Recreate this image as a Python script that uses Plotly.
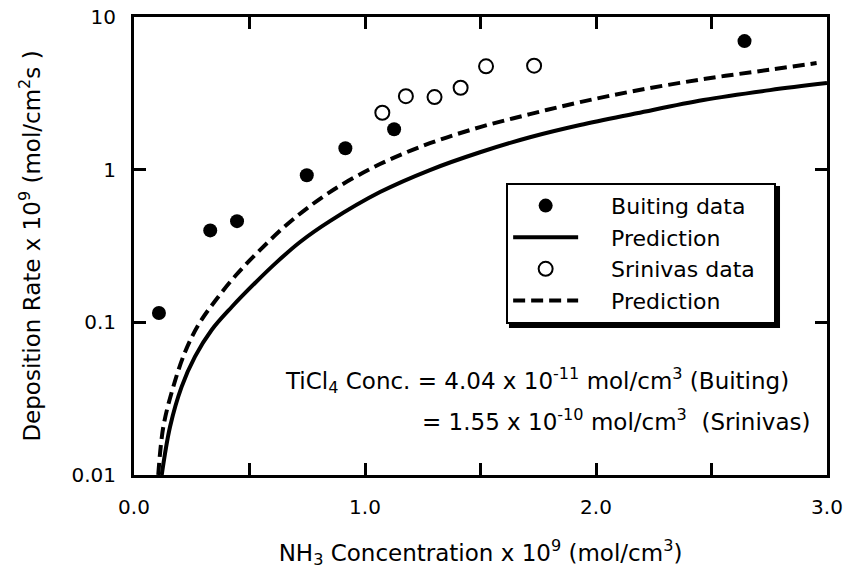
"""
Deposition rate of TiN against NH3 concentration: measured points from
Buiting and Srinivas with the model predictions, on a log rate axis.
"""

import plotly.graph_objects as go

# Measured deposition rates (x 1e9 mol/cm^2 s)
buiting_x = [0.108, 0.33, 0.446, 0.748, 0.915, 1.126, 2.643]
buiting_y = [0.115, 0.40, 0.46, 0.92, 1.38, 1.84, 6.95]

srinivas_x = [1.075, 1.177, 1.301, 1.414, 1.524, 1.732]
srinivas_y = [2.36, 3.03, 2.99, 3.44, 4.75, 4.8]

# Model predictions
pred_buiting_x = [0.120, 0.156, 0.206, 0.264, 0.336, 0.423, 0.524, 0.618,
                  0.719, 0.848, 1.065, 1.281, 1.498, 1.714, 1.931, 2.176,
                  2.465, 2.753, 3.0]
pred_buiting_y = [0.0100, 0.0207, 0.0378, 0.0596, 0.0891, 0.126, 0.181,
                  0.248, 0.336, 0.460, 0.713, 0.994, 1.30, 1.63, 1.96, 2.34,
                  2.86, 3.32, 3.69]

pred_srinivas_x = [0.105, 0.127, 0.170, 0.221, 0.278, 0.351, 0.442, 0.545,
                   0.675, 0.848, 1.065, 1.281, 1.498, 1.714, 1.931, 2.176,
                   2.465, 2.753, 2.955]
pred_srinivas_y = [0.0100, 0.0207, 0.0378, 0.0639, 0.0959, 0.138, 0.204,
                   0.297, 0.454, 0.713, 1.088, 1.49, 1.90, 2.31, 2.77, 3.30,
                   3.92, 4.52, 4.99]

# Tick labels
x_tickvals = [0.0, 0.5, 1.0, 1.5, 2.0, 2.5, 3.0]
x_ticktext = ["0.0", "", "1.0", "", "2.0", "", "3.0"]
y_tickvals = [0.01, 0.1, 1, 10]
y_ticktext = ["0.01", "0.1", "1", "10"]

FONT = "DejaVu Sans, Verdana, sans-serif"
PAD = "&nbsp;" * 4  # extra room between legend symbol and text


def _axis_style(standoff: int) -> dict:
    return dict(
        showline=True,
        linecolor="black",
        linewidth=3,
        mirror="ticks",
        ticks="inside",
        ticklen=12,
        tickwidth=2.5,
        tickcolor="black",
        showgrid=False,
        zeroline=False,
        automargin=False,
        ticklabelstandoff=standoff,
        tickfont=dict(size=20, color="black", family=FONT),
    )


fig = go.Figure()

fig.add_trace(go.Scatter(
    x=buiting_x, y=buiting_y, mode="markers", name=PAD + "Buiting data",
    marker=dict(size=14, color="black"),
))
fig.add_trace(go.Scatter(
    x=pred_buiting_x, y=pred_buiting_y, mode="lines", name=PAD + "Prediction",
    line=dict(color="black", width=4, shape="spline"),
))
fig.add_trace(go.Scatter(
    x=srinivas_x, y=srinivas_y, mode="markers",
    name=PAD + "Srinivas data&nbsp;&nbsp;",
    marker=dict(size=14, color="white", line=dict(color="black", width=2)),
))
fig.add_trace(go.Scatter(
    x=pred_srinivas_x, y=pred_srinivas_y, mode="lines", name=PAD + "Prediction",
    line=dict(color="black", width=4, dash="12px,6px", shape="spline"),
))

fig.update_xaxes(
    **_axis_style(12),
    range=[0, 3.0],
    tickvals=x_tickvals,
    ticktext=x_ticktext,
    title=dict(
        text="NH<sub>3</sub> Concentration x 10<sup>9</sup> (mol/cm<sup>3</sup>)",
        font=dict(size=23, color="black", family=FONT),
        standoff=27,
    ),
)
fig.update_yaxes(
    **_axis_style(11),
    type="log",
    range=[-2, 1],
    tickvals=y_tickvals,
    ticktext=y_ticktext,
    title=dict(
        text="Deposition Rate x 10<sup>9</sup> (mol/cm<sup>2</sup>s )",
        font=dict(size=23, color="black", family=FONT),
        standoff=25,
    ),
)

# Drop shadow behind the legend box
fig.add_shape(
    type="rect", xref="paper", yref="paper",
    x0=0.5411, x1=0.9322, y0=0.321, y1=0.631,
    fillcolor="black", line=dict(width=0), layer="above",
)

# Concentration note
fig.add_annotation(
    text="TiCl<sub>4</sub> Conc. = 4.04 x 10<sup>-11</sup> mol/cm<sup>3</sup> (Buiting)",
    x=0.215, y=0.207, xref="paper", yref="paper",
    xanchor="left", yanchor="middle", showarrow=False,
    font=dict(size=23, color="black", family=FONT),
)
fig.add_annotation(
    text="= 1.55 x 10<sup>-10</sup> mol/cm<sup>3</sup>&nbsp; (Srinivas)",
    x=0.412, y=0.12, xref="paper", yref="paper",
    xanchor="left", yanchor="middle", showarrow=False,
    font=dict(size=23, color="black", family=FONT),
)

fig.update_layout(
    width=843,
    height=572,
    margin=dict(l=134, r=16, t=17, b=97),
    paper_bgcolor="white",
    plot_bgcolor="white",
    font=dict(family=FONT, color="black", size=22),
    legend=dict(
        x=0.537, y=0.638, xanchor="left", yanchor="top",
        bgcolor="white", bordercolor="black", borderwidth=2,
        itemwidth=65,
        font=dict(size=22, color="black", family=FONT),
    ),
    showlegend=True,
)

# Drop the browser's default body margin so the figure sits at the page corner
fig.write_html(
    "out.html",
    config={"displayModeBar": False},
    post_script="document.body.style.margin = '0';",
)
